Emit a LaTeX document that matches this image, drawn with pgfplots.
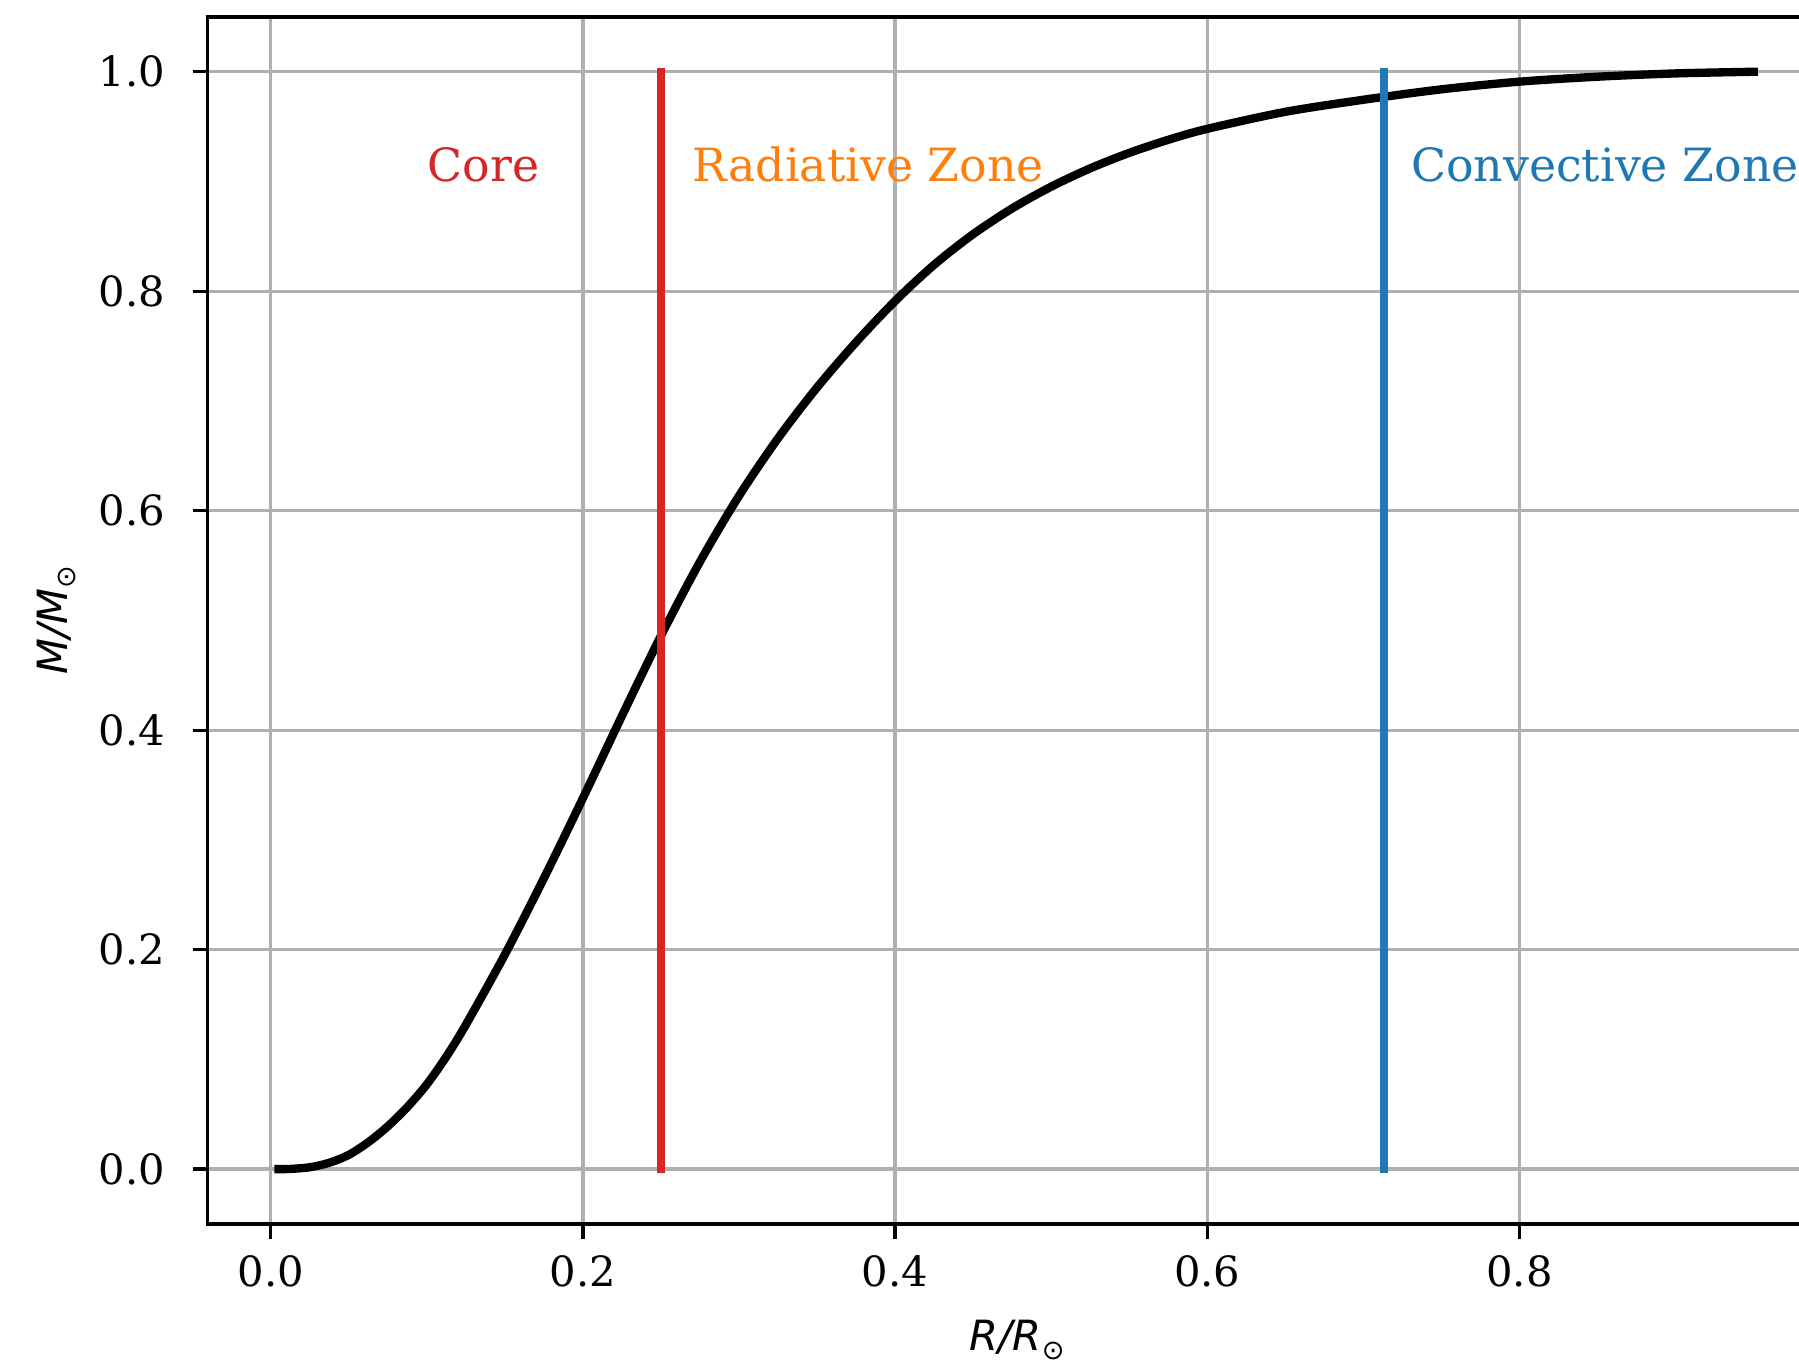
\documentclass[border=0pt]{standalone}
\usepackage{fontspec}
\setmainfont{DejaVu Serif}
\setsansfont{DejaVu Sans}
\usepackage{pgfplots}
\pgfplotsset{compat=1.18}
\definecolor{mplred}{HTML}{D62728}
\definecolor{mplorange}{HTML}{FF7F0E}
\definecolor{mplblue}{HTML}{1F77B4}
\definecolor{gridgray}{HTML}{B0B0B0}
\begin{document}
\begin{tikzpicture}
\useasboundingbox (-49.75pt,-32.64pt) rectangle (382.0pt,293.76pt);
\clip (-49.75pt,-32.64pt) rectangle (382.0pt,293.76pt);
\begin{axis}[
  at={(0,0)}, anchor=south west,
  scale only axis, width=388.73pt, height=289.7pt,
  xmin=-0.0406, xmax=0.997, ymin=-0.05, ymax=1.05,
  xtick={0,0.2,0.4,0.6,0.8}, ytick={0,0.2,0.4,0.6,0.8,1.0},
  xtick pos=lower, ytick pos=left,
  tick align=outside, major tick length=3.5pt,
  tick style={black, line width=0.8pt},
  axis line style={line width=0.8pt},
  grid=major, grid style={gridgray, line width=0.8pt},
  /pgf/number format/.cd, fixed, fixed zerofill, precision=1, assume math mode=true,
  /pgfplots/.cd,
  ticklabel style={font=\fontsize{10}{12}\selectfont, inner sep=0pt},
  xticklabel style={anchor=base, yshift=-11.6pt},
  yticklabel style={anchor=east, xshift=-6.5pt},
  xlabel={\sffamily\itshape R/R{\upshape\fontsize{6.5}{7}\selectfont\raisebox{-0.3em}{⊙}}},
  ylabel={\sffamily\itshape M/M{\upshape\fontsize{6.5}{7}\selectfont\raisebox{-0.3em}{⊙}}},
  xlabel style={at={(axis description cs:0.5,-0.1051)}, anchor=base, inner sep=0pt, font=\fontsize{10}{12}\selectfont},
  ylabel style={at={(axis description cs:-0.0864,0.5)}, anchor=base, rotate=0, inner sep=0pt, font=\fontsize{10}{12}\selectfont},
]
\addplot[black, line width=2pt, line cap=rect, line join=round, smooth, tension=0.5] coordinates {
(0.005,0.0) (0.0125,0.0002) (0.025,0.0017) (0.0375,0.0058) (0.05,0.0130)
(0.0625,0.0245) (0.075,0.0390) (0.0875,0.0565) (0.1,0.0772) (0.1125,0.1025)
(0.125,0.1315) (0.15,0.1955) (0.175,0.2650) (0.2,0.338) (0.225,0.413)
(0.25,0.486) (0.275,0.5535) (0.3,0.6135) (0.325,0.666) (0.35,0.7123)
(0.375,0.7536) (0.4,0.7911) (0.425,0.8241) (0.45,0.852) (0.475,0.8755)
(0.5,0.8953) (0.525,0.912) (0.55,0.9261) (0.575,0.938) (0.6,0.948)
(0.65,0.9635) (0.7,0.9745) (0.75,0.984) (0.8,0.991) (0.85,0.9955)
(0.9,0.9985) (0.95,1.0)
};
\addplot[mplred, line width=2pt, line cap=rect] coordinates {(0.25,0) (0.25,1)};
\addplot[mplblue, line width=2pt, line cap=rect] coordinates {(0.713,0) (0.713,1)};
\node[anchor=base west, inner sep=0pt, text=mplred, font=\fontsize{11}{13}\selectfont] at (axis cs:0.1,0.9) {Core};
\node[anchor=base west, inner sep=0pt, text=mplorange, font=\fontsize{11}{13}\selectfont] at (axis cs:0.27,0.9) {Radiative Zone};
\node[anchor=base west, inner sep=0pt, text=mplblue, font=\fontsize{11}{13}\selectfont] at (axis cs:0.73,0.9) {Convective Zone};
\end{axis}
\end{tikzpicture}
\end{document}
